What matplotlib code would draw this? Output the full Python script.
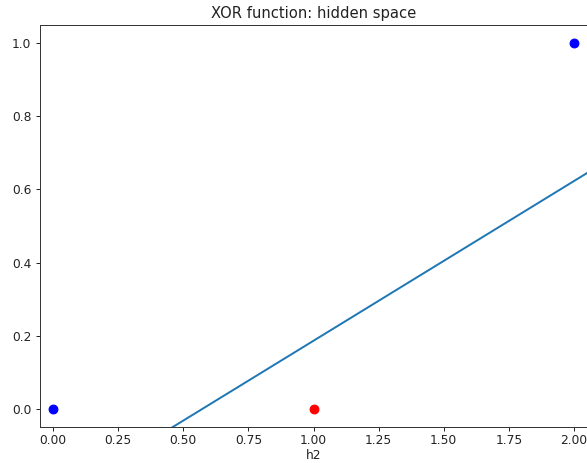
import numpy as np
import matplotlib
matplotlib.use("Agg")
import matplotlib.pyplot as plt

# Hidden-layer coordinates of the XOR inputs and their classes
h_x = [0.0, 1.0, 2.0]
h_y = [0.0, 0.0, 1.0]
point_colors = ["blue", "red", "blue"]

# Separating line in the hidden space: y = slope * x + intercept
slope = 0.437
intercept = -0.251

x_limits = (-0.05, 2.05)
y_limits = (-0.05, 1.05)

DPI = 88.7
fig = plt.figure(figsize=(587 / DPI, 463 / DPI), dpi=DPI)
ax = fig.add_axes([40 / 587, 36 / 463, 547 / 587, 402 / 463])

for x, y, c in zip(h_x, h_y, point_colors):
    ax.plot(x, y, "o", color=c, markersize=7)

line_x = np.array(x_limits)
ax.plot(line_x, slope * line_x + intercept, color="#1f77b4", linewidth=1.6)

ax.set_xlim(*x_limits)
ax.set_ylim(*y_limits)
ax.set_xticks(np.arange(0, 2.01, 0.25))
ax.set_yticks(np.arange(0, 1.01, 0.2))
ax.tick_params(colors="#222222", labelcolor="#222222")
ax.tick_params(axis="x", pad=2.0)
ax.set_title("XOR function: hidden space", color="#222222")
ax.set_xlabel("h2", color="#222222", labelpad=1.5)
for s in ax.spines.values():
    s.set_edgecolor("#333333")

fig.savefig("out.png", dpi=DPI)
